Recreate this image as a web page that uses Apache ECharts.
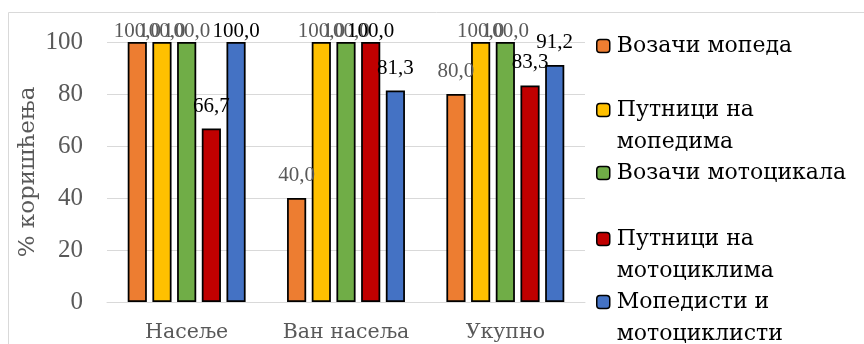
<!DOCTYPE html>
<html>
<head>
<meta charset="utf-8">
<script src="https://cdn.jsdelivr.net/npm/echarts@6/dist/echarts.min.js"></script>
<style>
  html, body { margin: 0; padding: 0; background: #fff; }
  #chart { width: 864px; height: 344px; }
</style>
</head>
<body>
<div id="chart"></div>
<script>
// категорије и серије
var categories = ["Насеље", "Ван насеља", "Укупно"];
var seriesNames = ["Возачи мопеда", "Путници на мопедима", "Возачи мотоцикала", "Путници на мотоциклима", "Мопедисти и мотоциклисти"];
var vozaciMopeda = [100.0, 40.0, 80.0];
var putniciMopedima = [100.0, 100.0, 100.0];
var vozaciMotocikala = [100.0, 100.0, 100.0];
var putniciMotociklima = [66.7, 100.0, 83.3];
var mopedistiMotociklisti = [100.0, 81.3, 91.2];
var yTicks = [0, 20, 40, 60, 80, 100];

var values = [vozaciMopeda, putniciMopedima, vozaciMotocikala, putniciMotociklima, mopedistiMotociklisti];
var colors = ["#ED7D31", "#FFC000", "#70AD47", "#C00000", "#4472C4"];
var labelColors = ["#595959", "#595959", "#595959", "#000000", "#000000"];
// текст легенде (прелом реда као у Excel-у)
var legendText = [
  "Возачи мопеда",
  "\nПутници на\nмопедима",
  "Возачи мотоцикала",
  "\nПутници на\nмотоциклима",
  "\nМопедисти и\nмотоциклисти"
];
var legendTop = [30, 62, 157, 191, 254];

var FONT = "DejaVu Serif";
var NUM_FONT = "Liberation Serif";

var chart = echarts.init(document.getElementById("chart"));

var series = seriesNames.map(function (name, i) {
  return {
    name: name,
    type: "bar",
    barCategoryGap: "26%",
    barGap: "29%",
    itemStyle: { color: colors[i], borderColor: "#000", borderWidth: 1.75 },
    label: {
      show: true,
      position: "top",
      fontFamily: NUM_FONT,
      fontSize: 21,
      color: labelColors[i],
      formatter: function (p) { return p.value.toFixed(1).replace(".", ","); }
    },
    data: values[i].map(function (v) {
      // ознаке на 100 су спуштене (да стану у оквир)
      return { value: v, label: { distance: v >= 100 ? 0 : 12 } };
    })
  };
});

var legends = seriesNames.map(function (name, i) {
  return {
    data: [name],
    left: 596,
    top: legendTop[i],
    orient: "vertical",
    padding: 0,
    itemWidth: 13,
    itemHeight: 13,
    itemStyle: { borderColor: "#000", borderWidth: 1.5 },
    selectedMode: false,
    formatter: function () { return legendText[i]; },
    textStyle: { fontFamily: FONT, fontSize: 22, color: "#000", lineHeight: 32, padding: [0, 0, 0, 2] }
  };
});

var option = {
  animation: false,
  textStyle: { fontFamily: FONT },
  graphic: [{
    type: "rect",
    shape: { x: 8.5, y: 12.5, width: 1000, height: 500 },
    style: { fill: "none", stroke: "#D9D9D9", lineWidth: 1 },
    silent: true
  }],
  legend: legends,
  grid: { left: 107, right: 279, top: 42, bottom: 42 },
  xAxis: {
    type: "category",
    data: categories,
    axisTick: { show: false },
    axisLine: { lineStyle: { color: "#D9D9D9", width: 1 } },
    axisLabel: { interval: 0, fontFamily: FONT, fontSize: 20.5, color: "#595959", margin: 20 }
  },
  yAxis: {
    type: "value",
    min: yTicks[0],
    max: yTicks[yTicks.length - 1],
    interval: yTicks[1] - yTicks[0],
    name: "% коришћења",
    nameLocation: "middle",
    nameMoveOverlap: false,
    nameGap: 67,
    nameTextStyle: { fontFamily: FONT, fontSize: 23, color: "#595959" },
    axisLine: { show: false },
    axisTick: { show: false },
    axisLabel: { fontFamily: NUM_FONT, fontSize: 25, color: "#595959", margin: 24 },
    splitLine: { lineStyle: { color: "#D9D9D9", width: 1 } }
  },
  series: series
};

chart.setOption(option);
</script>
</body>
</html>
